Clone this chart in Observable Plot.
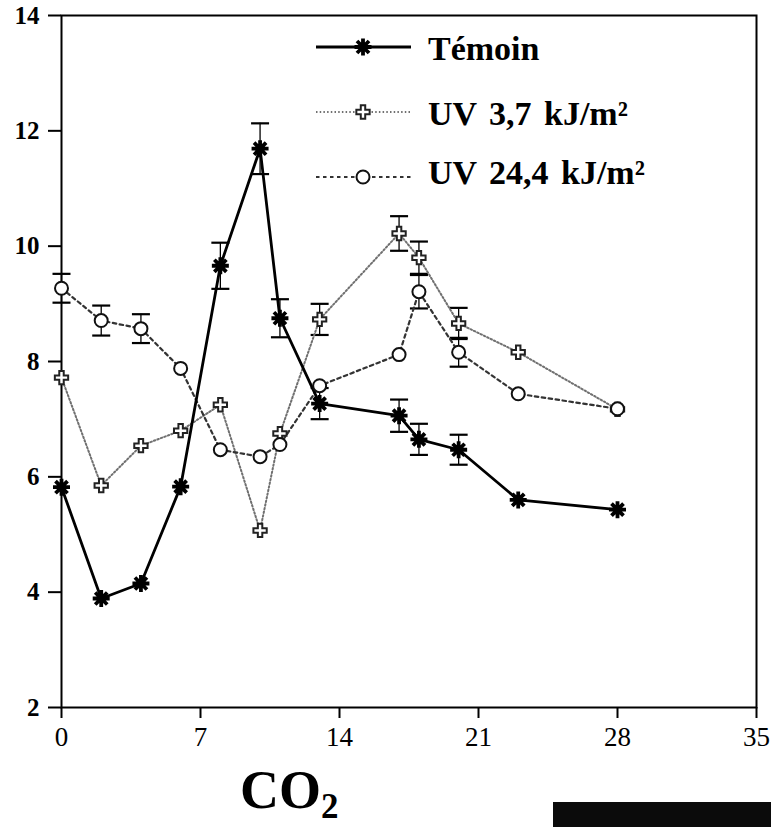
<!DOCTYPE html>
<html>
<head>
<meta charset="utf-8">
<script src="https://cdn.jsdelivr.net/npm/d3@7"></script>
<script src="https://cdn.jsdelivr.net/npm/@observablehq/plot@0.6"></script>
<style>
  html, body { margin: 0; padding: 0; background: #fff; }
  #wrap { position: relative; width: 771px; height: 827px; overflow: hidden; }
  #legend { position: absolute; left: 0; top: 0; }
  #co2 { position: absolute; left: 240px; top: 763px; font-family: "Liberation Serif", serif; font-weight: bold; font-size: 54px; line-height: 1; color: #000; }
  #co2 span { font-size: 35px; position: relative; top: 10px; }
  #blackbox { position: absolute; left: 553px; top: 802px; width: 218px; height: 25px; background: #0b0b0b; }
  #chart svg g[aria-label="y-axis tick"] path, #chart svg g[aria-label="x-axis tick"] path { stroke-width: 2px; }
</style>
</head>
<body>
<div id="wrap">
  <div id="chart"></div>
  <svg id="legend" width="771" height="200"></svg>
  <div id="co2">CO<span>2</span></div>
  <div id="blackbox"></div>
</div>
<script>
// ---- data ----
const days = [0, 2, 4, 6, 8, 10, 11, 13, 17, 18, 20, 23, 28];
const seriesNames = ["Témoin", "UV 3,7 kJ/m²", "UV 24,4 kJ/m²"];
const temoin = [5.82, 3.89, 4.15, 5.83, 9.66, 11.69, 8.75, 7.27, 7.06, 6.65, 6.47, 5.60, 5.43];
const uv37   = [7.72, 5.85, 6.54, 6.80, 7.25, 5.07, 6.75, 8.73, 10.22, 9.80, 8.66, 8.16, 7.17];
const uv244  = [9.27, 8.71, 8.57, 7.88, 6.47, 6.35, 6.56, 7.58, 8.12, 9.21, 8.16, 7.44, 7.18];
const errTemoin = [0, 0, 0, 0, 0.40, 0.44, 0.33, 0.27, 0.28, 0.27, 0.26, 0, 0];
const errUv37   = [0, 0, 0, 0, 0, 0, 0, 0.27, 0.30, 0.28, 0.27, 0, 0];
const errUv244  = [0.25, 0.26, 0.25, 0, 0, 0, 0, 0, 0, 0.29, 0.25, 0, 0];
const xTicks = [0, 7, 14, 21, 28, 35];
const yTicks = [2, 4, 6, 8, 10, 12, 14];

// ---- build tables ----
function rows(name, vals, errs) {
  return days.map((d, i) => ({series: name, day: d, value: vals[i], err: errs[i]}));
}
const dT = rows(seriesNames[0], temoin, errTemoin);
const d1 = rows(seriesNames[1], uv37, errUv37);
const d2 = rows(seriesNames[2], uv244, errUv244);
const withErr = [...dT, ...d1, ...d2].filter(d => d.err > 0);

// ---- custom symbols ----
const asterisk8 = {
  draw(ctx, size) {
    const r = Math.sqrt(size / Math.PI);
    const q = r * Math.SQRT1_2;
    ctx.moveTo(0, -r); ctx.lineTo(0, r);
    ctx.moveTo(-r, 0); ctx.lineTo(r, 0);
    ctx.moveTo(-q, -q); ctx.lineTo(q, q);
    ctx.moveTo(-q, q); ctx.lineTo(q, -q);
  }
};
const cap = {
  draw(ctx, size) {
    const r = Math.sqrt(size / Math.PI);
    ctx.moveTo(-r, 0); ctx.lineTo(r, 0);
  }
};

const chart = Plot.plot({
  width: 771,
  height: 760,
  marginLeft: 61,
  marginRight: 15,
  marginTop: 15,
  marginBottom: 53,
  style: {fontFamily: "Liberation Serif, serif", fontSize: "22px", color: "#000", background: "#fff"},
  x: {domain: [0, 35], ticks: xTicks, tickSize: 11, tickPadding: 8, label: null},
  y: {domain: [2, 14], ticks: yTicks, tickSize: 13, tickPadding: 9, label: null},
  marks: [
    Plot.frame({stroke: "#000", strokeWidth: 2}),
    // error bars
    Plot.ruleX(withErr, {x: "day", y1: d => d.value - d.err, y2: d => d.value + d.err, stroke: "#000", strokeWidth: 1.3}),
    Plot.dot(withErr, {x: "day", y: d => d.value + d.err, symbol: cap, r: 9, stroke: "#000", strokeWidth: 2.2}),
    Plot.dot(withErr, {x: "day", y: d => d.value - d.err, symbol: cap, r: 9, stroke: "#000", strokeWidth: 2.2}),
    // lines
    Plot.line(d1, {x: "day", y: "value", stroke: "#707070", strokeWidth: 2, strokeDasharray: "1.5,2.2"}),
    Plot.line(d2, {x: "day", y: "value", stroke: "#333", strokeWidth: 2.2, strokeDasharray: "3.5,3.5"}),
    Plot.line(dT, {x: "day", y: "value", stroke: "#000", strokeWidth: 2.8}),
    // markers
    Plot.dot(d1, {x: "day", y: "value", symbol: "cross", r: 5.6, fill: "#fff", stroke: "#222", strokeWidth: 2}),
    Plot.dot(d2, {x: "day", y: "value", symbol: "circle", r: 6.5, fill: "#fff", stroke: "#111", strokeWidth: 2}),
    Plot.dot(dT, {x: "day", y: "value", symbol: asterisk8, r: 8.5, stroke: "#000", strokeWidth: 3.8})
  ]
});
document.getElementById("chart").appendChild(chart);
d3.select(chart).selectAll('g[aria-label="y-axis tick label"] text')
  .style("font-size", "25px").style("font-weight", "bold");
d3.select(chart).selectAll('g[aria-label="x-axis tick label"] text')
  .style("font-size", "27px");

// ---- legend overlay ----
const lg = d3.select("#legend");
const legendStyles = [
  {line: {stroke: "#000", w: 2.8, dash: null}, sym: asterisk8, r: 8.5, fill: "none", stroke: "#000", sw: 3.8},
  {line: {stroke: "#707070", w: 2, dash: "1.5,2.2"}, sym: d3.symbolCross, r: 5.6, fill: "#fff", stroke: "#222", sw: 2},
  {line: {stroke: "#333", w: 2.2, dash: "3.5,3.5"}, sym: d3.symbolCircle, r: 6.5, fill: "#fff", stroke: "#111", sw: 2}
];
const legendLineY = [47, 112, 177];
const legendBaseY = [60, 125, 184];
seriesNames.forEach((name, i) => {
  const s = legendStyles[i];
  const y = legendLineY[i];
  lg.append("line").attr("x1", 316).attr("x2", 411).attr("y1", y).attr("y2", y)
    .attr("stroke", s.line.stroke).attr("stroke-width", s.line.w)
    .attr("stroke-dasharray", s.line.dash);
  lg.append("path").attr("d", d3.symbol(s.sym, Math.PI * s.r * s.r)())
    .attr("transform", `translate(363,${y})`)
    .attr("fill", s.fill).attr("stroke", s.stroke).attr("stroke-width", s.sw);
  lg.append("text").attr("x", 428).attr("y", legendBaseY[i])
    .attr("font-family", "Liberation Serif, serif").attr("font-weight", "bold")
    .attr("font-size", 34).attr("word-spacing", 4).attr("fill", "#000").text(name);
});
</script>
</body>
</html>
